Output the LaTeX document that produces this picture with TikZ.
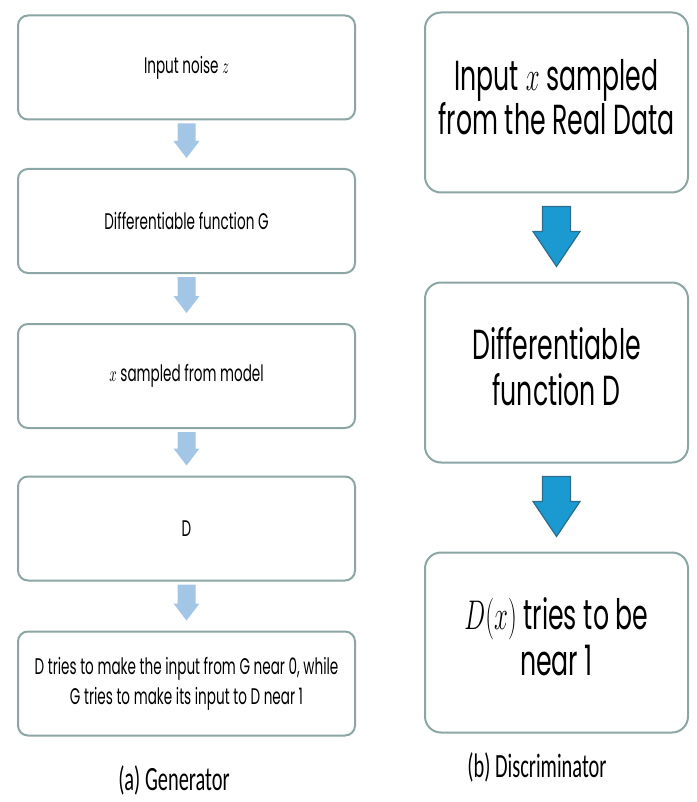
\documentclass[tikz,border=0pt]{standalone}
\usepackage{fontspec}
\setmainfont{Poppins}
\newfontfamily\capfont{Carlito}
\usetikzlibrary{calc}
\definecolor{boxline}{HTML}{8CA5A5}
\definecolor{larrow}{HTML}{A3C5E6}
\definecolor{rarrow}{HTML}{1A9AD0}
\definecolor{rarrowline}{HTML}{2C6E8C}
\newcommand\sq[1]{\scalebox{0.6}[1]{#1}}
\newcommand\blockarrow[8]{%
 \path[#8] let \p1=(#1.south), \p2=(#2.north) in
 (\x1-#3pt,\y1-#6pt) -- (\x1+#3pt,\y1-#6pt) -- (\x1+#3pt,\y2+#7pt+#5pt) -- (\x1+#4pt,\y2+#7pt+#5pt) -- (\x1,\y2+#7pt) -- (\x1-#4pt,\y2+#7pt+#5pt) -- (\x1-#3pt,\y2+#7pt+#5pt) -- cycle;}
\begin{document}
\begin{tikzpicture}[x=0.5pt,y=-0.5pt,
 lbox/.style={draw=boxline, line width=1pt, rounded corners=5pt, fill=white, minimum width=168.5pt, minimum height=52pt, inner sep=0pt, align=center, font=\fontsize{11.3}{15}\selectfont},
 rbox/.style={draw=boxline, line width=1pt, rounded corners=8pt, fill=white, minimum width=131.5pt, minimum height=90pt, inner sep=0pt, align=center, font=\fontsize{21}{24}\selectfont},
 larr/.style={fill=larrow},
 rarr/.style={fill=rarrow, draw=rarrowline, line width=0.6pt, line join=miter},
 captext/.style={inner sep=0pt, font=\capfont\fontsize{17}{20}\selectfont}]
\useasboundingbox (0,0) rectangle (696,802);
% left column
\node[lbox] (g1) at (186.5,67.5) {\sq{Input noise $z$}};
\node[lbox] (g2) at (186.5,221) {\sq{Differentiable function G}};
\node[lbox] (g3) at (186.5,376) {\sq{$x$ sampled from model}};
\node[lbox] (g4) at (186.5,528.5) {\sq{D}};
\node[lbox] (g5) at (186.5,683.5) {\sq{\begin{tabular}{@{}c@{}}D tries to make the input from G near 0, while\\[0pt] G tries to make its input to D near 1\end{tabular}}};
\node[captext] (ca) at (174,780) {\sq{(a) Generator}};
% right column
\node[rbox] (d1) at (556.5,102.5) {\sq{\begin{tabular}{@{}c@{}}Input $x$ sampled\\[-2pt] from the Real Data\end{tabular}}};
\node[rbox] (d2) at (556.5,372.5) {\sq{\begin{tabular}{@{}c@{}}Differentiable\\[-1pt] function D\end{tabular}}};
\node[rbox] (d3) at (556.5,642.5) {\sq{\begin{tabular}{@{}c@{}}$D(x)$ tries to be\\[-1pt] near 1\end{tabular}}};
\node[captext] (cb) at (537,767) {\sq{(b) Discriminator}};
% arrows
\blockarrow{g1}{g2}{4.5}{6.5}{8.5}{1.5}{5}{larr}
\blockarrow{g2}{g3}{4.5}{6.5}{8.5}{1.5}{5}{larr}
\blockarrow{g3}{g4}{4.5}{6.5}{8.5}{1.5}{5}{larr}
\blockarrow{g4}{g5}{4.5}{6.5}{8.5}{1.5}{5}{larr}
\blockarrow{d1}{d2}{7}{11.75}{17.5}{6.5}{7.5}{rarr}
\blockarrow{d2}{d3}{7}{11.75}{17.5}{6.5}{7.5}{rarr}
\end{tikzpicture}
\end{document}
